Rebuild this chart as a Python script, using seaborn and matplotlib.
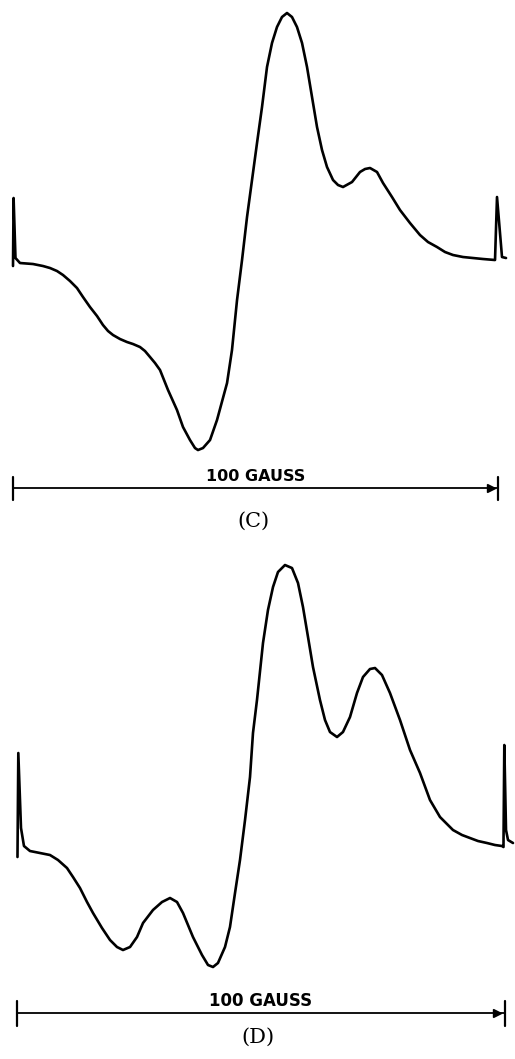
import numpy as np
import pandas as pd
import matplotlib
matplotlib.use("Agg")
import matplotlib.pyplot as plt
import seaborn as sns

# ---------------- data ----------------
# Spectrum C: magnetic field (gauss, 0 = left end of the 100 G bar) and signal (arb. units)
field_C = [-0.06, 0.06, 0.45, 1.38, 4.06, 6.12, 7.57, 9.01, 10.25, 11.69, 13.13, 14.37,
           15.81, 17.26, 18.49, 19.53, 20.56, 22.00, 23.44, 24.68, 26.12, 27.15, 28.19,
           29.22, 30.25, 31.90, 33.75, 34.99, 36.43, 37.46, 38.08, 39.11, 40.56, 42.00,
           44.07, 45.09, 46.13, 47.16, 48.19, 49.22, 50.25, 51.28, 52.31, 53.34, 54.37,
           55.40, 56.43, 57.46, 58.49, 59.53, 60.56, 61.59, 62.62, 63.65, 64.68, 65.92,
           66.95, 67.98, 69.84, 71.48, 72.52, 73.55, 74.99, 76.23, 78.08, 79.73, 81.79,
           83.85, 85.50, 87.36, 89.01, 90.66, 92.72, 94.78, 96.85, 99.32, 99.73, 100.76,
           101.59]
signal_C = [-4, 64, 4, -1, -2, -4, -6, -9, -13, -19, -26, -35,
            -45, -54, -63, -69, -73, -77, -80, -82, -85, -89, -95,
            -101, -108, -128, -148, -165, -178, -186, -188, -186, -178, -158,
            -121, -88, -38, 2, 45, 82, 119, 155, 195, 219, 235,
            245, 249, 245, 235, 219, 195, 165, 135, 112, 95, 82,
            77, 75, 80, 90, 93, 94, 90, 79, 65, 52, 39,
            27, 20, 15, 10, 7, 5, 4, 3, 2, 65, 5,
            4]

# Spectrum D
field_D = [0.16, 0.33, 0.88, 1.49, 2.72, 4.77, 6.82, 8.46, 10.30, 11.53, 12.96, 14.40,
           15.63, 17.47, 19.11, 20.54, 21.77, 23.21, 24.64, 25.87, 27.91, 29.76, 31.40,
           32.83, 34.06, 36.10, 37.95, 39.18, 40.20, 41.22, 42.66, 43.68, 44.71, 45.73,
           46.76, 47.78, 48.39, 49.21, 50.44, 51.46, 52.49, 53.51, 54.94, 56.38, 57.61,
           58.63, 59.66, 60.68, 62.11, 63.14, 64.16, 65.60, 66.82, 68.26, 69.69, 70.92,
           72.35, 73.38, 74.81, 76.45, 78.50, 80.55, 82.60, 84.64, 86.69, 88.12, 89.35,
           91.20, 92.83, 94.47, 96.31, 97.95, 99.38, 99.69, 99.86, 100.21, 100.62, 101.64]
signal_D = [-7, 97, 22, 4, -1, -3, -5, -10, -18, -27, -38, -52,
            -63, -78, -90, -97, -100, -97, -87, -73, -60, -52, -48,
            -52, -63, -87, -105, -115, -117, -113, -97, -77, -43, -10,
            30, 73, 117, 150, 207, 240, 263, 278, 285, 282, 267,
            243, 213, 183, 150, 130, 118, 113, 118, 133, 157, 173,
            181, 182, 175, 157, 130, 100, 77, 50, 33, 26, 20,
            15, 12, 9, 7, 5, 4, 3, 105, 20, 10, 7]

scale_gauss = 100
scale_label = "100 GAUSS"
panel_labels = ["(C)", "(D)"]

# ---------------- figure ----------------
sns.set_style("white")
plt.rcParams['font.family'] = ['DejaVu Sans']
plt.rcParams['text.color'] = 'black'

fig = plt.figure(figsize=(5.15, 10.59), dpi=100)
fig.patch.set_facecolor("white")

panels = [
    dict(field=field_C, signal=signal_C, label=panel_labels[0],
         rect=[0, 0.4995, 1, 0.5005], xlim=(-2.742, 103.44), ylim=(-268, 262),
         bar_y=-226, tick_half=11.5, text_y=-214.5, lab_y=-259, fs=11.5),
    dict(field=field_D, signal=signal_D, label=panel_labels[1],
         rect=[0, 0.0, 1, 0.4995], xlim=(-3.42, 102.05), ylim=(-209, 320),
         bar_y=-163, tick_half=12.5, text_y=-151, lab_y=-187, fs=12.0),
]

for p in panels:
    ax = fig.add_axes(p["rect"])
    df = pd.DataFrame({"field": p["field"], "signal": p["signal"]})
    sns.lineplot(data=df, x="field", y="signal", ax=ax, color="black",
                 linewidth=1.9, sort=False, estimator=None,
                 solid_joinstyle="round", solid_capstyle="round")
    ax.set_xlim(*p["xlim"])
    ax.set_ylim(*p["ylim"])
    ax.axis("off")

    # scale bar
    y = p["bar_y"]
    th = p["tick_half"]
    ax.plot([0, scale_gauss], [y, y], color="black", lw=1.3, solid_capstyle="butt")
    ax.plot([0, 0], [y - th, y + th], color="black", lw=1.6)
    ax.plot([scale_gauss, scale_gauss], [y - th, y + th], color="black", lw=1.6)
    ax.plot([scale_gauss - 1.6], [y], marker=">", color="black", markersize=6)
    ax.text(scale_gauss / 2, p["text_y"], scale_label, ha="center", va="center",
            fontsize=p["fs"], fontweight="bold", family="DejaVu Sans", color="black")
    ax.text(49.5, p["lab_y"], p["label"], ha="center", va="center",
            fontsize=15, family="DejaVu Serif", color="black")

fig.savefig("out.png", dpi=100, facecolor="white")
